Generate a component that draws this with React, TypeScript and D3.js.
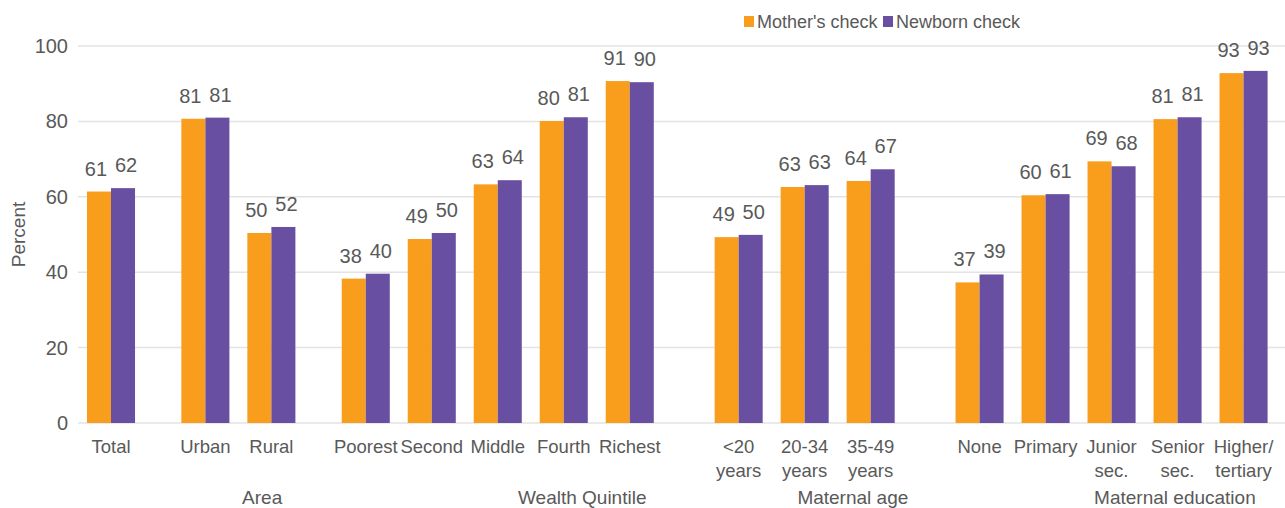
import React from 'react';
import * as d3 from 'd3';

// data
const categories = [
  'Total', 'Urban', 'Rural',
  'Poorest', 'Second', 'Middle', 'Fourth', 'Richest',
  '<20 years', '20-34 years', '35-49 years',
  'None', 'Primary', 'Junior sec.', 'Senior sec.', 'Higher/ tertiary',
];
const categoryLines = [
  ['Total'], ['Urban'], ['Rural'],
  ['Poorest'], ['Second'], ['Middle'], ['Fourth'], ['Richest'],
  ['<20', 'years'], ['20-34', 'years'], ['35-49', 'years'],
  ['None'], ['Primary'], ['Junior', 'sec.'], ['Senior', 'sec.'], ['Higher/', 'tertiary'],
];
const mothersCheck = [61.4, 80.7, 50.4, 38.3, 48.8, 63.3, 80.1, 90.7, 49.3, 62.6, 64.2, 37.3, 60.4, 69.4, 80.6, 92.8];
const newbornCheck = [62.3, 81.0, 52.0, 39.6, 50.4, 64.4, 81.1, 90.4, 49.9, 63.1, 67.3, 39.4, 60.7, 68.1, 81.1, 93.4];
const groupNames = ['Area', 'Wealth Quintile', 'Maternal age', 'Maternal education'];
const seriesNames = ["Mother's check", 'Newborn check'];
const yTicks = [0, 20, 40, 60, 80, 100];

const colors = ['#F99D1C', '#684FA1'];
const textColor = '#595959';
const font = '"Liberation Sans", Arial, sans-serif';

// slot positions (in category units), with wider spacing between groups
const gaps = [0, 0.43, 0, 0.43, 0, 0, 0, 0, 0.65, 0, 0, 0.65, 0, 0, 0, 0];
const slots: number[] = [];
gaps.reduce((acc, g, i) => {
  const p = i === 0 ? 0 : acc + 1 + g;
  slots.push(p);
  return p;
}, 0);
// group label anchors, in the same units
const groupAnchors = [2.29, 7.14, 11.24, 16.12];

const W = 1285;
const H = 508;

export default function App() {
  const x = d3.scaleLinear().domain([0, 1]).range([111, 177]);
  const y = d3.scaleLinear().domain([0, 100]).range([423, 46]);
  const slotW = x(1) - x(0);
  const barW = slotW * 0.364;

  return (
    <svg width={W} height={H} style={{ position: 'absolute', left: 0, top: 0, fontFamily: font }}>
      {/* gridlines */}
      {yTicks.map((t) => (
        <g key={t}>
          <line x1={78} x2={W} y1={y(t)} y2={y(t)} stroke="#e3e3e3" strokeWidth={1.5} />
          <text x={68} y={y(t) + 7} textAnchor="end" fontSize={20} fill={textColor}>
            {t}
          </text>
        </g>
      ))}
      <text
        transform={`translate(25,${(y(0) + y(100)) / 2}) rotate(-90)`}
        textAnchor="middle"
        fontSize={19}
        fill={textColor}
      >
        Percent
      </text>

      {/* bars */}
      {categories.map((c, i) => {
        const cx = x(slots[i]);
        const vals = [mothersCheck[i], newbornCheck[i]];
        return (
          <g key={c}>
            {vals.map((v, s) => {
              const bx = s === 0 ? cx - barW : cx;
              return (
                <g key={s}>
                  <rect x={bx} y={y(v)} width={barW} height={y(0) - y(v)} fill={colors[s]} />
                  <text
                    x={bx + barW / 2 + (s === 0 ? -3 : 3)}
                    y={y(v) - 16}
                    textAnchor="middle"
                    fontSize={20}
                    fill={textColor}
                  >
                    {Math.round(v)}
                  </text>
                </g>
              );
            })}
            {categoryLines[i].map((line, k) => (
              <text key={k} x={cx} y={453 + k * 24} textAnchor="middle" fontSize={18.5} fill={textColor}>
                {line}
              </text>
            ))}
          </g>
        );
      })}

      {/* group labels */}
      {groupNames.map((g, i) => (
        <text key={g} x={x(groupAnchors[i])} y={504} textAnchor="middle" fontSize={19} fill={textColor}>
          {g}
        </text>
      ))}

      {/* legend */}
      {seriesNames.map((s, i) => {
        const lx = i === 0 ? 744 : 883;
        return (
          <g key={s}>
            <rect x={lx} y={16} width={10} height={11} fill={colors[i]} />
            <text x={lx + 13} y={28} fontSize={18} fill={textColor}>
              {s}
            </text>
          </g>
        );
      })}
    </svg>
  );
}
